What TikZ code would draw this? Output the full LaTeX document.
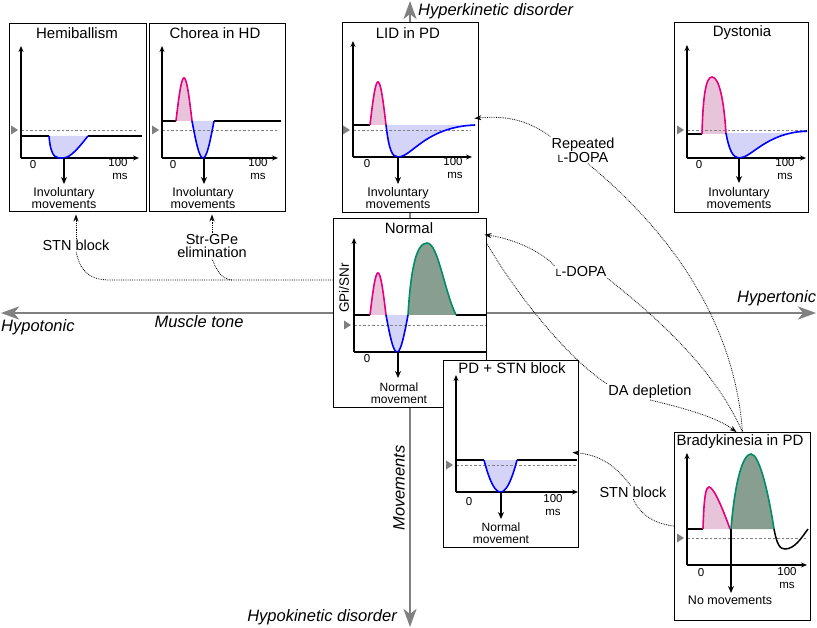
\documentclass[tikz,border=0pt]{standalone}
\usepackage{fontspec}
\setmainfont{Liberation Sans}
\usetikzlibrary{arrows.meta,calc}
\definecolor{axgray}{RGB}{128,128,128}
\definecolor{pinkl}{RGB}{230,0,126}
\definecolor{pinkf}{RGB}{232,196,218}
\definecolor{bluel}{RGB}{0,0,255}
\definecolor{bluef}{RGB}{212,212,248}
\definecolor{greenl}{RGB}{0,140,100}
\definecolor{greenf}{RGB}{135,158,145}
\tikzset{
  bigaxis/.style={draw=axgray, line width=2.6pt, {Stealth[length=18pt,width=13pt,inset=5pt]}-{Stealth[length=18pt,width=13pt,inset=5pt]}},
  axlab/.style={font=\fontsize{16.5}{18}\selectfont\itshape, inner sep=1pt},
  panel/.style={draw=black, line width=0.9pt, fill=white, inner sep=0pt},
  ttl/.style={font=\fontsize{15}{16}\selectfont, inner sep=1pt},
  small/.style={font=\fontsize{12.5}{10.5}\selectfont, inner sep=0pt, align=center},
  smallb/.style={font=\fontsize{12}{12}\selectfont, inner sep=0pt, align=center},
  tick/.style={font=\fontsize{11.5}{11.5}\selectfont, inner sep=0pt},
  pax/.style={line width=1.8pt, -{Stealth[length=6pt,width=5pt]}},
  paxn/.style={line width=1.8pt},
  base/.style={line width=1.8pt},
  pinkc/.style={draw=pinkl, line width=1.6pt},
  bluec/.style={draw=bluel, line width=1.6pt},
  greenc/.style={draw=greenl, line width=1.6pt},
  refl/.style={draw=axgray, line width=0.7pt, dash pattern=on 2.5pt off 2pt},
  downarr/.style={line width=1.3pt, -{Stealth[length=7pt,width=6pt]}},
  conn/.style={densely dotted, line width=0.8pt, -{Stealth[length=7pt,width=5pt]}},
  connl/.style={densely dotted, line width=0.8pt},
  clab/.style={font=\fontsize{14.5}{13}\selectfont, inner sep=1pt, align=center},
}
\newcommand\refmark[3]{% x0, y, xend
  \draw[refl] (#1,#2) -- (#3,#2);
  \fill[axgray] ({#1-10},{#2-4.5}) -- ({#1-3},{#2}) -- ({#1-10},{#2+4.5}) -- cycle;}
\begin{document}
\begin{tikzpicture}[x=1pt,y=-1pt]
\useasboundingbox (0,0) rectangle (817,628);

% ---------- big axes ----------
\coordinate (hL) at (1,313); \coordinate (hR) at (816,313);
\coordinate (vT) at (410,1); \coordinate (vB) at (410,627);
\draw[bigaxis] (hL) -- (hR);
\draw[bigaxis] (vT) -- (vB);
\node[axlab, anchor=west] (hyper) at (417,11) {Hyperkinetic disorder};
\node[axlab, anchor=east] (hypo) at (398,617) {Hypokinetic disorder};
\node[axlab, anchor=west] (hypot) at (0,327) {Hypotonic};
\node[axlab] (mtone) at (199,322) {Muscle tone};
\node[axlab, anchor=west] (hypert) at (736,298) {Hypertonic};
\node[axlab, rotate=90] (movs) at (399,488) {Movements};

% ---------- Hemiballism ----------
\node[panel, minimum width=137pt, minimum height=188pt] (hemi) at (77.5,117) {};
\node[ttl] (hemiT) at (77,33) {Hemiballism};
\fill[bluef] (49,136) .. controls (51,160) and (57,158) .. (63,158) .. controls (71,158) and (80,146) .. (88,136) -- cycle;
\refmark{21}{130}{138}
\draw[pax] (21,158) -- (21,46);
\draw[pax] (21,158) -- (139,158);
\draw[base] (21,136) -- (49,136);
\draw[base] (88,136) -- (142,136);
\draw[bluec] (49,136) .. controls (51,160) and (57,158) .. (63,158) .. controls (71,158) and (80,146) .. (88,136);
\draw[downarr] (64,158) -- (64,184);
\node[tick] (h0) at (33,165) {0};
\node[tick] (h100) at (118,163) {100};
\node[tick] (hms) at (120,176) {ms};
\node[small] (hinv) at (64,198) {Involuntary\\movements};

% ---------- Chorea in HD ----------
\node[panel, minimum width=136pt, minimum height=188pt] (chorea) at (217,117) {};
\node[ttl] (choreaT) at (215,33) {Chorea in HD};
\fill[pinkf] plot[domain=0:180,samples=40,variable=\t] ({176+16*\t/180},{121-43*sin(\t)}) -- cycle;
\fill[bluef] plot[domain=0:180,samples=40,variable=\t] ({192+22*\t/180},{121+37*sin(\t)}) -- cycle;
\refmark{162}{130}{278}
\draw[pax] (162,158) -- (162,46);
\draw[pax] (162,158) -- (278,158);
\draw[base] (162,121) -- (176,121);
\draw[base] (214,121) -- (281,121);
\draw[pinkc] plot[domain=0:180,samples=40,variable=\t] ({176+16*\t/180},{121-43*sin(\t)});
\draw[bluec] plot[domain=0:180,samples=40,variable=\t] ({192+22*\t/180},{121+37*sin(\t)});
\draw[downarr] (204,158) -- (204,184);
\node[tick] (c0) at (173,165) {0};
\node[tick] (c100) at (258,163) {100};
\node[tick] (cms) at (258,176) {ms};
\node[small] (cinv) at (203,198) {Involuntary\\movements};

% ---------- LID in PD ----------
\node[panel, minimum width=136pt, minimum height=190pt] (lid) at (410,117) {};
\node[ttl] (lidT) at (408,33) {LID in PD};
\fill[pinkf] plot[domain=0:180,samples=40,variable=\t] ({370+16*\t/180},{125-43*sin(\t)}) -- cycle;
\fill[bluef] (386,125) .. controls (389,150) and (392,157) .. (398,157) .. controls (412,157) and (425,127) .. (475,125) -- cycle;
\refmark{353}{130}{471}
\draw[pax] (353,157) -- (353,41);
\draw[pax] (353,157) -- (472,157);
\draw[base] (353,125) -- (370,125);
\draw[pinkc] plot[domain=0:180,samples=40,variable=\t] ({370+16*\t/180},{125-43*sin(\t)});
\draw[bluec] (386,125) .. controls (389,150) and (392,157) .. (398,157) .. controls (412,157) and (425,127) .. (475,125);
\draw[downarr] (398,157) -- (398,184);
\node[tick] (l0) at (367,164) {0};
\node[tick] (l100) at (453,162) {100};
\node[tick] (lms) at (455,175) {ms};
\node[small] (linv) at (398,198) {Involuntary\\movements};

% ---------- Dystonia ----------
\node[panel, minimum width=134pt, minimum height=190pt] (dyst) at (741.5,117) {};
\node[ttl] (dystT) at (742,33) {Dystonia};
\fill[pinkf] (702,134) .. controls (703,95) and (706,77) .. (712,77) .. controls (719,77) and (724,100) .. (726,134) -- cycle;
\fill[bluef] (726,133) .. controls (729,150) and (733,158) .. (739,158) .. controls (752,158) and (765,133) .. (807,131) -- (807,133) -- cycle;
\refmark{687}{130}{806}
\draw[pax] (687,158) -- (687,45);
\draw[pax] (687,158) -- (806,158);
\draw[base] (687,134) -- (702,134);
\draw[pinkc] (702,134) .. controls (703,95) and (706,77) .. (712,77) .. controls (719,77) and (724,100) .. (726,134);
\draw[bluec] (726,133) .. controls (729,150) and (733,158) .. (739,158) .. controls (752,158) and (765,133) .. (807,131);
\draw[downarr] (739,158) -- (739,183);
\node[tick] (d0) at (699,165) {0};
\node[tick] (d100) at (785,163) {100};
\node[tick] (dms) at (785,176) {ms};
\node[small] (dinv) at (739,198) {Involuntary\\movements};

% ---------- Normal ----------
\node[panel, minimum width=153pt, minimum height=189pt] (normal) at (409.5,312.5) {};
\node[ttl] (normalT) at (409,228) {Normal};
\fill[pinkf] plot[domain=0:180,samples=40,variable=\t] ({370+16*\t/180},{315-42*sin(\t)}) -- cycle;
\fill[bluef] plot[domain=0:180,samples=40,variable=\t] ({386+22*\t/180},{315+37*sin(\t)}) -- cycle;
\fill[greenf] (408,315) .. controls (411,265) and (417,243) .. (427,243) .. controls (438,243) and (444,290) .. (456,315) -- cycle;
\refmark{354}{325}{485}
\draw[pax] (354,352) -- (354,238);
\draw[paxn] (354,352) -- (485.5,352);
\draw[base] (354,315) -- (370,315);
\draw[base] (456,315) -- (485.5,315);
\draw[pinkc] plot[domain=0:180,samples=40,variable=\t] ({370+16*\t/180},{315-42*sin(\t)});
\draw[bluec] plot[domain=0:180,samples=40,variable=\t] ({386+22*\t/180},{315+37*sin(\t)});
\draw[greenc] (408,315) .. controls (411,265) and (417,243) .. (427,243) .. controls (438,243) and (444,290) .. (456,315);
\draw[downarr] (398,352) -- (398,378);
\node[tick] (n0) at (367,359) {0};
\node[smallb] (nmov) at (399,393) {Normal\\movement};
\node[font=\fontsize{13.5}{14}\selectfont, rotate=90, inner sep=0pt] (gpi) at (344,288) {GPi/SNr};

% ---------- PD + STN block ----------
\node[panel, minimum width=135pt, minimum height=187pt] (pdstn) at (510.5,453.5) {};
\node[ttl] (pdstnT) at (512,368) {PD + STN block};
\fill[bluef] plot[domain=0:1,samples=40,variable=\t] ({484+33*\t},{460+128*\t*(1-\t)}) -- cycle;
\refmark{456}{465}{577}
\draw[pax] (456,492) -- (456,375);
\draw[pax] (456,492) -- (578,492);
\draw[base] (456,460) -- (484,460);
\draw[base] (517,460) -- (577,460);
\draw[bluec] plot[domain=0:1,samples=40,variable=\t] ({484+33*\t},{460+128*\t*(1-\t)});
\draw[downarr] (501,492) -- (501,519);
\node[tick] (p0) at (469,502) {0};
\node[tick] (p100) at (553,499) {100};
\node[tick] (pms) at (553,512) {ms};
\node[smallb] (pmov) at (501,533) {Normal\\movement};

% ---------- Bradykinesia in PD ----------
\node[panel, minimum width=136pt, minimum height=188pt] (brady) at (742.5,526.5) {};
\node[ttl] (bradyT) at (740,442) {Bradykinesia in PD};
\fill[pinkf] (703,529) .. controls (704,495) and (706,487) .. (709,487) .. controls (714,487) and (724,512) .. (730,529) -- cycle;
\fill[greenf] (731,529) .. controls (735,480) and (743,454) .. (751,454) .. controls (759,454) and (768,490) .. (774,529) -- cycle;
\refmark{687}{538}{806}
\draw[pax] (687,565) -- (687,453);
\draw[pax] (687,565) -- (807,565);
\draw[base] (687,529) -- (703,529);
\draw[base] (730,529) -- (731,529);
\draw[pinkc] (703,529) .. controls (704,495) and (706,487) .. (709,487) .. controls (714,487) and (724,512) .. (730,529);
\draw[greenc] (731,529) .. controls (735,480) and (743,454) .. (751,454) .. controls (759,454) and (768,490) .. (774,529);
\draw[line width=1.5pt] (774,529) .. controls (777,545) and (780,549) .. (785,549) .. controls (795,549) and (802,537) .. (808,529);
\draw[downarr] (731,529) -- (731,593);
\node[tick] (b0) at (701,573) {0};
\node[tick] (b100) at (787,572) {100};
\node[tick] (bms) at (787,585) {ms};
\node[small] (bnomov) at (730,600) {No movements};

% ---------- connector labels ----------
\node[clab] (stnL) at (76,245) {STN block};
\node[clab] (strgpe) at (212,246) {Str-GPe\\elimination};
\node[clab] (rep) at (583,150) {Repeated\\{\fontsize{10.5}{10}\selectfont L}-DOPA};
\node[clab] (ldopa) at (581,272) {{\fontsize{10.5}{10}\selectfont L}-DOPA};
\node[clab] (dadep) at (650,392) {DA depletion};
\node[clab] (stnR) at (633,492) {STN block};
\coordinate (jn) at (232,280);

% ---------- connectors ----------
\draw[connl] (normal.west |- jn) -- (110,280) .. controls (88,280) and (80,270) .. (stnL.south);
\draw[connl] (jn) .. controls (222,279) and (218,273) .. (strgpe.south);
\draw[conn, shorten >=3pt] (stnL.north) -- (hemi.south -| stnL.north);
\draw[conn, shorten >=3pt] (strgpe.north) -- (chorea.south -| strgpe.north);
\draw[conn, shorten >=-4pt] (rep.north west) .. controls (530,122) and (510,115) .. (lid.east |- {(0,118)});
\draw[connl] (rep.-70) .. controls (680,240) and (735,330) .. (brady.north);
\draw[conn, shorten >=-2pt] (ldopa.north west) .. controls (540,250) and (510,238) .. (normal.east |- {(0,235)});
\draw[connl] (ldopa.south east) .. controls (660,320) and (715,370) .. (brady.north);
\draw[connl] (normal.east |- {(0,243)}) .. controls (520,300) and (570,360) .. (dadep.north west);
\draw[conn] (dadep.south) .. controls (700,412) and (720,420) .. ([xshift=-6pt]brady.north);
\draw[connl] (brady.west |- {(0,526)}) .. controls (655,524) and (640,515) .. (stnR.south);
\draw[conn, shorten >=-6pt] (stnR.110) .. controls (615,465) and (600,455) .. (pdstn.east |- {(0,453)});
\end{tikzpicture}
\end{document}
